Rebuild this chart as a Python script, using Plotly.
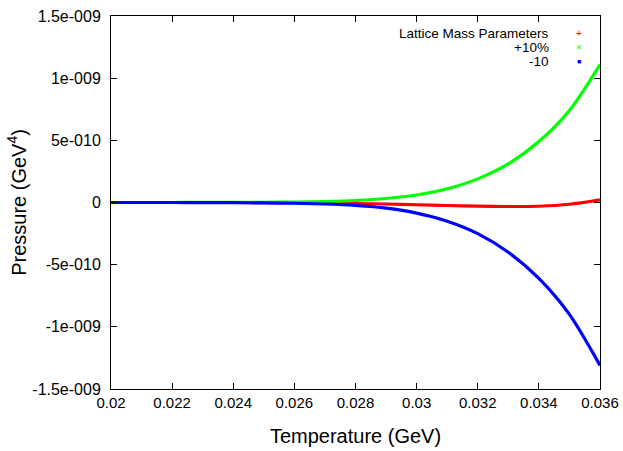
import plotly.graph_objects as go

temperature = [0.020, 0.021, 0.022, 0.023, 0.024, 0.025, 0.026, 0.027, 0.028,
               0.029, 0.030, 0.031, 0.032, 0.033, 0.034, 0.035, 0.036]
# pressures in units of 1e-9 GeV^4
p_lattice = [0, 0, 0, 0, 0, -0.001, -0.002, -0.004, -0.008,
             -0.012, -0.018, -0.024, -0.029, -0.032, -0.030, -0.014, 0.022]
p_plus10 = [0, 0, 0.0002, 0.0005, 0.001, 0.002, 0.004, 0.008, 0.016,
            0.032, 0.060, 0.11, 0.19, 0.31, 0.49, 0.74, 1.11]
p_minus10 = [0, 0, -0.0002, -0.0005, -0.0013, -0.003, -0.006, -0.012, -0.024,
             -0.045, -0.085, -0.15, -0.25, -0.40, -0.61, -0.90, -1.31]

series_names = ["Lattice Mass Parameters", "+10%", "-10"]
series_colors = ["#ff0000", "#00ff00", "#0000ff"]
legend_symbols = ["+", "×", "■"]
legend_symbol_sizes = [10, 10, 7]

x_ticks = [0.020, 0.022, 0.024, 0.026, 0.028, 0.030, 0.032, 0.034, 0.036]
x_ticktext = ["0.02", "0.022", "0.024", "0.026", "0.028", "0.03", "0.032", "0.034", "0.036"]
y_ticks = [-1.5e-9, -1e-9, -5e-10, 0, 5e-10, 1e-9, 1.5e-9]
y_ticktext = ["-1.5e-009", "-1e-009", "-5e-010", "0", "5e-010", "1e-009", "1.5e-009"]

FONT = "Liberation Sans, Arial, sans-serif"

fig = go.Figure()
for name, vals, col in zip(series_names, [p_lattice, p_plus10, p_minus10], series_colors):
    fig.add_trace(go.Scatter(
        x=temperature, y=[v * 1e-9 for v in vals], mode="lines", name=name,
        line=dict(color=col, width=3.2, shape="spline", smoothing=0.8),
        showlegend=False))

# gnuplot-style legend: right-aligned text, key symbol at right
for i, (name, col, sym, ss) in enumerate(zip(series_names, series_colors, legend_symbols, legend_symbol_sizes)):
    ypos = 1 - (17.5 + 14 * i) / 373
    fig.add_annotation(xref="paper", yref="paper", x=(551 - 111) / 489, y=ypos,
                       text=name, showarrow=False, xanchor="right", yanchor="middle",
                       font=dict(family=FONT, size=13.5, color="black"))
    fig.add_annotation(xref="paper", yref="paper", x=(579 - 111) / 489, y=ypos,
                       text=sym, showarrow=False, xanchor="center", yanchor="middle",
                       font=dict(family=FONT, size=ss, color=col))

axis_common = dict(
    showline=True, linecolor="black", linewidth=1, mirror="ticks",
    ticks="inside", ticklen=6, tickcolor="black", tickwidth=1,
    showgrid=False, zeroline=False, automargin=False,
)

fig.update_layout(
    width=623, height=451,
    margin=dict(l=111, r=23, t=16, b=62),
    paper_bgcolor="white", plot_bgcolor="white",
    xaxis=dict(range=[0.020, 0.036], tickvals=x_ticks, ticktext=x_ticktext,
               tickfont=dict(family=FONT, size=15, color="black"),
               title=dict(text="Temperature (GeV)", font=dict(family=FONT, size=20, color="black"),
                          standoff=18),
               **axis_common),
    yaxis=dict(range=[-1.5e-9, 1.5e-9], tickvals=y_ticks, ticktext=y_ticktext,
               tickfont=dict(family=FONT, size=16, color="black"),
               ticklabelstandoff=6,
               title=dict(text="Pressure (GeV<sup>4</sup>)", font=dict(family=FONT, size=20, color="black"),
                          standoff=0),
               **axis_common),
)

fig.write_html("out.html")
